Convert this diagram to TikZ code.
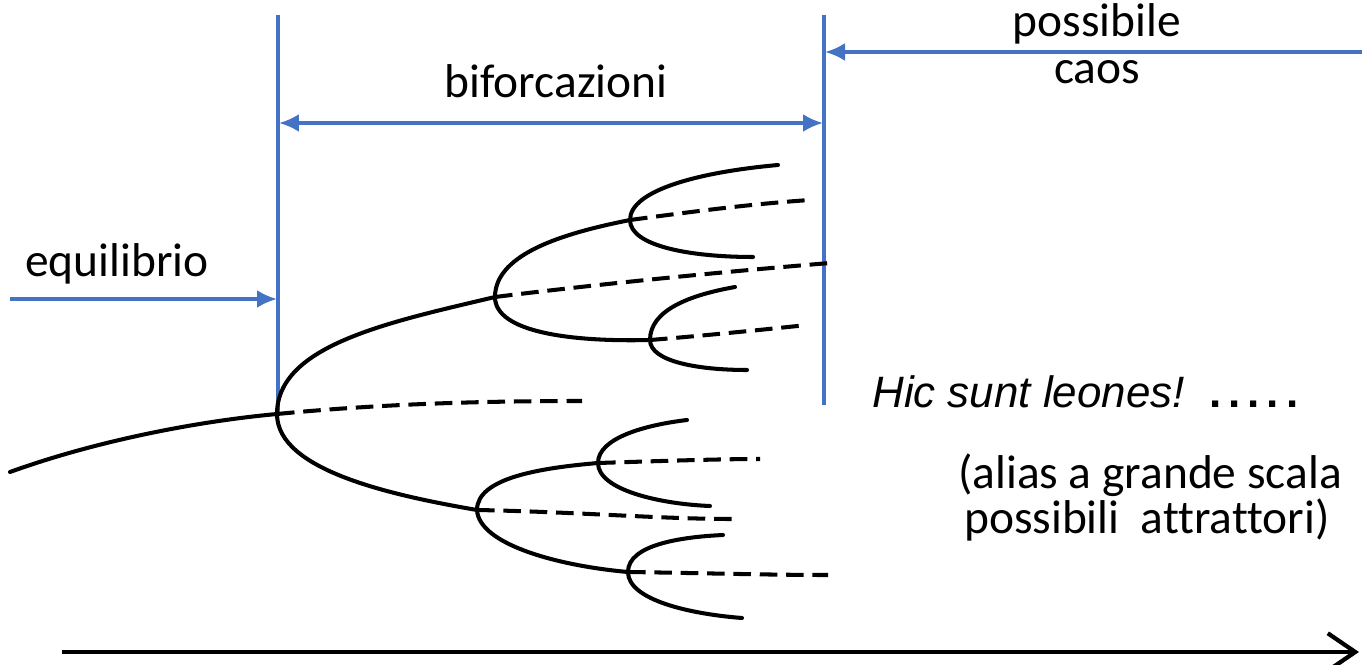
\documentclass[tikz,border=0pt]{standalone}
\usepackage{fontspec}
\setmainfont{Carlito}[Ligatures={NoCommon}]
\newfontfamily\hicfont{Liberation Sans}
\usetikzlibrary{arrows.meta}
\definecolor{offblue}{RGB}{68,114,196}
\begin{document}
\begin{tikzpicture}[x=0.02cm,y=-0.02cm,
  bl/.style={draw=offblue,line width=2pt},
  bltip/.style={-{Latex[length=0.4cm,width=0.36cm]}},
  br/.style={line width=2.3pt,line cap=round},
  dsh/.style={line width=2.3pt,dash pattern=on 10pt off 5pt},
  lbl/.style={inner sep=0pt,anchor=base,font=\fontsize{27}{30}\selectfont}]
\useasboundingbox (0,0) rectangle (1362,665);
% blue guides
\coordinate (v1t) at (278,15); \coordinate (v1b) at (278,414);
\coordinate (v2t) at (824,15); \coordinate (v2b) at (824,405);
\draw[bl] (v1t) -- (v1b);
\draw[bl] (v2t) -- (v2b);
\coordinate (bfl) at (279,123); \coordinate (bfr) at (823,123);
\draw[bl,{Latex[length=0.4cm,width=0.36cm]}-{Latex[length=0.4cm,width=0.36cm]}] (bfl) -- (bfr);
\coordinate (eqs) at (10,299); \coordinate (eqe) at (277,299);
\draw[bl,bltip] (eqs) -- (eqe);
\coordinate (pcs) at (1362,52); \coordinate (pce) at (825,52);
\draw[bl,bltip] (pcs) -- (pce);
% labels
\node[lbl] (tbif) at (556,98) {biforcazioni};
\node[lbl] (teq) at (117,277) {equilibrio};
\node[lbl] (tpos) at (1097,37) {possibile};
\node[lbl] (tcaos) at (1097,84) {caos};
\node[inner sep=0pt,anchor=base west,font=\hicfont\itshape\fontsize{25}{30}\selectfont] (thic) at (872,407) {Hic sunt leones!\ \ {\bfseries\upshape\addfontfeature{LetterSpace=16}.....}};
\node[lbl] (tal1) at (1150,488) {(alias a grande scala};
\node[lbl] (tal2) at (1147,533) {possibili\ \ attrattori)};
% bifurcation points
\coordinate (S0) at (10,472);
\coordinate (B1) at (277,414);
\coordinate (B2) at (495,297);
\coordinate (B3) at (477,510);
\coordinate (B4) at (630,220);
\coordinate (B5) at (650,340);
\coordinate (B6) at (598,463);
\coordinate (B7) at (628,572);
% end points
\coordinate (d1) at (582,401);
\coordinate (d2) at (830,263);
\coordinate (u4) at (778,165); \coordinate (l4) at (753,257); \coordinate (d4) at (810,200);
\coordinate (u5) at (735,287); \coordinate (l5) at (747,370); \coordinate (d5) at (807,325);
\coordinate (d3) at (733,519);
\coordinate (u6) at (687,420); \coordinate (l6) at (710,506); \coordinate (d6) at (760,459);
\coordinate (u7) at (723,535); \coordinate (l7) at (742,618); \coordinate (d7) at (828,575);
% stem
\draw[br] (S0) .. controls (90,443) and (190,422) .. (B1);
% B1
\draw[br] (B1) .. controls (277,345) and (390,322) .. (B2);
\draw[br] (B1) .. controls (277,470) and (390,495) .. (B3);
\draw[dsh] (B1) .. controls (380,404) and (480,401) .. (d1);
% B2
\draw[br] (B2) .. controls (495,252) and (570,232) .. (B4);
\draw[br] (B2) .. controls (495,332) and (570,342) .. (B5);
\draw[dsh] (B2) .. controls (600,284) and (720,272) .. (d2);
% B4
\draw[br] (B4) .. controls (630,190) and (700,172) .. (u4);
\draw[br] (B4) .. controls (630,246) and (690,257) .. (l4);
\draw[dsh] (B4) .. controls (690,212) and (750,204) .. (d4);
% B5
\draw[br] (B5) .. controls (650,310) and (690,295) .. (u5);
\draw[br] (B5) .. controls (650,362) and (700,370) .. (l5);
\draw[dsh] (B5) .. controls (700,336) and (760,330) .. (d5);
% B3
\draw[br] (B3) .. controls (477,478) and (540,468) .. (B6);
\draw[br] (B3) .. controls (479,545) and (560,566) .. (B7);
\draw[dsh] (B3) .. controls (580,512) and (660,519) .. (d3);
% B6
\draw[br] (B6) .. controls (598,438) and (645,425) .. (u6);
\draw[br] (B6) .. controls (598,490) and (660,504) .. (l6);
\draw[dsh] (B6) .. controls (660,461) and (720,459) .. (d6);
% B7
\draw[br] (B7) .. controls (628,545) and (680,537) .. (u7);
\draw[br] (B7) .. controls (628,600) and (690,614) .. (l7);
\draw[dsh] (B7) .. controls (700,573) and (770,575) .. (d7);
% time axis
\coordinate (ax0) at (62,652); \coordinate (ax1) at (1359,652);
\draw[line width=2.6pt,-{Straight Barb[length=0.55cm,width=0.75cm,line width=2.4pt]}] (ax0) -- (ax1);
\end{tikzpicture}
\end{document}
